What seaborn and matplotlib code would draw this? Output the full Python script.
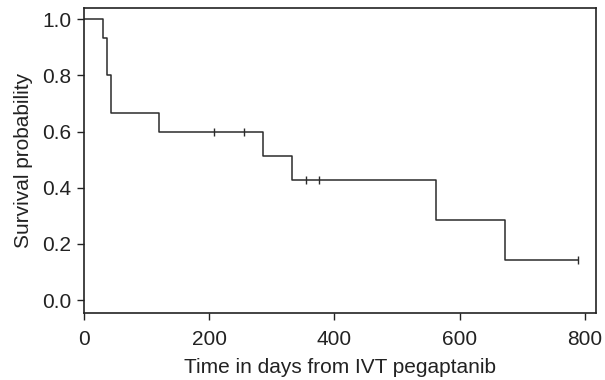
import matplotlib
matplotlib.use("Agg")
import matplotlib.pyplot as plt
import seaborn as sns
import pandas as pd

# Kaplan-Meier step data (time in days, survival probability)
step_times = [0, 30, 36, 43, 119, 286, 332, 563, 673, 789]
step_surv = [1.0, 0.933, 0.8, 0.667, 0.6, 0.514, 0.429, 0.286, 0.143, 0.143]
censor_times = [208, 256, 355, 376, 789]
censor_surv = [0.6, 0.6, 0.429, 0.429, 0.143]
x_ticks = [0, 200, 400, 600, 800]
y_ticks = [0.0, 0.2, 0.4, 0.6, 0.8, 1.0]

sns.set_style("ticks")
plt.rcParams['font.family'] = ['Liberation Sans', 'DejaVu Sans']

fig = plt.figure(figsize=(6.05, 3.8), dpi=100)
ax = fig.add_axes([0.139, 0.176, 0.846, 0.803])

df = pd.DataFrame({"t": step_times, "s": step_surv})
sns.lineplot(data=df, x="t", y="s", ax=ax, drawstyle="steps-post",
             color="#2b2b2b", linewidth=1.1, estimator=None)
cdf = pd.DataFrame({"t": censor_times, "s": censor_surv})
sns.scatterplot(data=cdf, x="t", y="s", ax=ax, marker="|", s=40,
                color="#2b2b2b", linewidth=1.0)

ax.set_xlim(0, 818)
ax.set_ylim(-0.046, 1.04)
ax.set_xticks(x_ticks)
ax.set_yticks(y_ticks)
ax.set_xticklabels([str(v) for v in x_ticks])
ax.set_yticklabels([f"{v:.1f}" for v in y_ticks])
ax.set_xlabel("Time in days from IVT pegaptanib", fontsize=15, color="#222222", labelpad=6)
ax.set_ylabel("Survival probability", fontsize=15, color="#222222", labelpad=7)
ax.tick_params(axis="both", labelsize=15, colors="#222222", length=5, width=1.0, direction="out")
ax.tick_params(axis="x", pad=7.5)
ax.tick_params(axis="y", pad=4)
for sp in ax.spines.values():
    sp.set_visible(True)
    sp.set_color("#222222")
    sp.set_linewidth(1.2)

fig.savefig("out.png", dpi=100)
